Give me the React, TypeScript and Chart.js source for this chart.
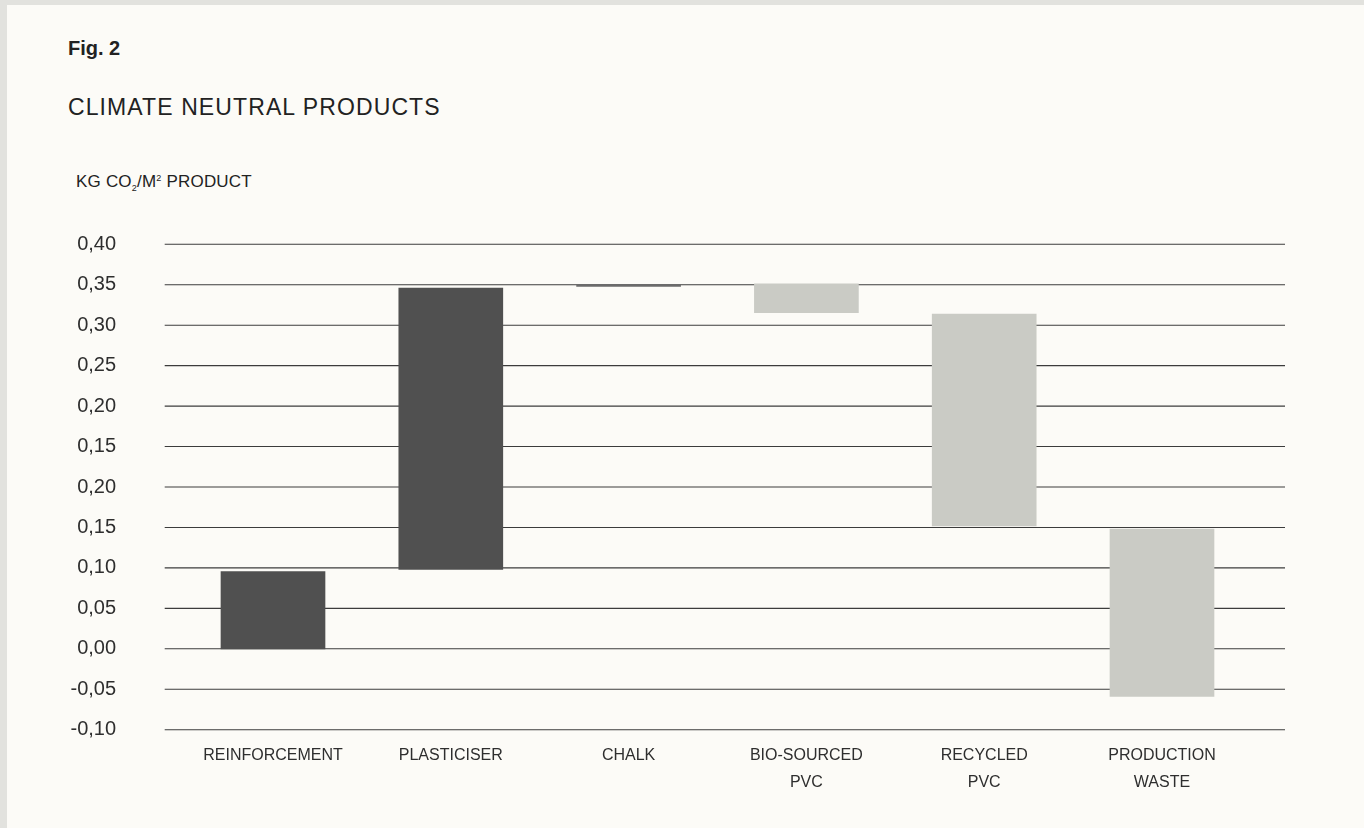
import React, { useEffect, useRef } from "react";
import { Chart, registerables } from "chart.js";

Chart.register(...registerables);

const categories: (string | string[])[] = [
  "REINFORCEMENT",
  "PLASTICISER",
  "CHALK",
  ["BIO-SOURCED", "PVC"],
  ["RECYCLED", "PVC"],
  ["PRODUCTION", "WASTE"],
];

// floating bar ranges [start, end], in axis units
const barStarts = [0, 0.098, 0.448, 0.4155, 0.152, -0.059];
const barEnds = [0.0953, 0.446, 0.4502, 0.451, 0.4138, 0.148];

const barColors = ["#505050", "#505050", "#6b6b6b", "#cacbc5", "#cacbc5", "#cacbc5"];

// tick labels as printed on the original axis (bottom to top)
const yTickLabels = [
  "-0,10",
  "-0,05",
  "0,00",
  "0,05",
  "0,10",
  "0,15",
  "0,20",
  "0,15",
  "0,20",
  "0,25",
  "0,30",
  "0,35",
  "0,40",
];

const FONT = "'Liberation Sans', Arial, sans-serif";

const gridPlugin = {
  id: "extendedGrid",
  beforeDatasetsDraw(chart: any) {
    const { ctx, chartArea, scales } = chart;
    const y = scales.y;
    ctx.save();
    ctx.strokeStyle = "#3c3c3c";
    ctx.lineWidth = 1.1;
    y.ticks.forEach((t: any) => {
      const py = y.getPixelForValue(t.value);
      ctx.beginPath();
      ctx.moveTo(chartArea.left - 19.4, py);
      ctx.lineTo(chartArea.right + 34.1, py);
      ctx.stroke();
    });
    ctx.restore();
  },
};

export default function App() {
  const canvasRef = useRef<HTMLCanvasElement | null>(null);

  useEffect(() => {
    if (!canvasRef.current) return;
    const chart = new Chart(canvasRef.current, {
      type: "bar",
      data: {
        labels: categories,
        datasets: [
          {
            data: barStarts.map((s, i) => [s, barEnds[i]]),
            backgroundColor: barColors,
            borderWidth: 0,
            barThickness: 104,
          },
        ],
      },
      options: {
        animation: false,
        responsive: false,
        maintainAspectRatio: false,
        layout: { padding: { top: 244.3, right: 113.1, left: 0, bottom: 0 } },
        plugins: {
          legend: { display: false },
          tooltip: { enabled: false },
        },
        scales: {
          x: {
            grid: { display: false, drawTicks: false },
            border: { display: false },
            ticks: {
              color: "#2e2e2e",
              font: { family: FONT, size: 16, lineHeight: 1.72 },
              padding: 12,
              maxRotation: 0,
              autoSkip: false,
            },
            afterFit: (scale: any) => {
              scale.height = 98.3;
            },
          },
          y: {
            min: -0.1,
            max: 0.5,
            grid: { display: false, drawTicks: false },
            border: { display: false },
            ticks: {
              stepSize: 0.05,
              color: "#2e2e2e",
              font: { family: FONT, size: 20 },
              padding: 68,
              callback: (_v: any, i: number) => yTickLabels[i],
            },
            afterFit: (scale: any) => {
              scale.width = 184.1;
            },
          },
        },
      },
      plugins: [gridPlugin],
    });
    return () => chart.destroy();
  }, []);

  return (
    <>
      <style>{`body{margin:0;background:#e2e2de;}`}</style>
      <div
        style={{
          position: "absolute",
          left: 7,
          top: 5,
          width: 1357,
          height: 823,
          background: "#fcfbf7",
        }}
      />
      <div
        style={{
          position: "absolute",
          left: 68,
          top: 38.4,
          fontFamily: FONT,
          fontWeight: 700,
          fontSize: 20,
          lineHeight: 1,
          color: "#222",
        }}
      >
        Fig. 2
      </div>
      <div
        style={{
          position: "absolute",
          left: 68,
          top: 96,
          fontFamily: FONT,
          fontSize: 23,
          lineHeight: 1,
          letterSpacing: 1.1,
          color: "#222",
          whiteSpace: "nowrap",
        }}
      >
        CLIMATE NEUTRAL PRODUCTS
      </div>
      <div
        style={{
          position: "absolute",
          left: 76,
          top: 172.6,
          fontFamily: FONT,
          fontSize: 17,
          lineHeight: 1,
          letterSpacing: 0.2,
          color: "#222",
          whiteSpace: "nowrap",
        }}
      >
        KG CO<sub style={{ fontSize: 9, verticalAlign: -4 }}>2</sub>/M
        <sup style={{ fontSize: 9, verticalAlign: 6 }}>2</sup> PRODUCT
      </div>
      <div style={{ position: "absolute", left: 0, top: 0, width: 1364, height: 828 }}>
        <canvas ref={canvasRef} width={1364} height={828} style={{ width: 1364, height: 828 }} />
      </div>
    </>
  );
}
